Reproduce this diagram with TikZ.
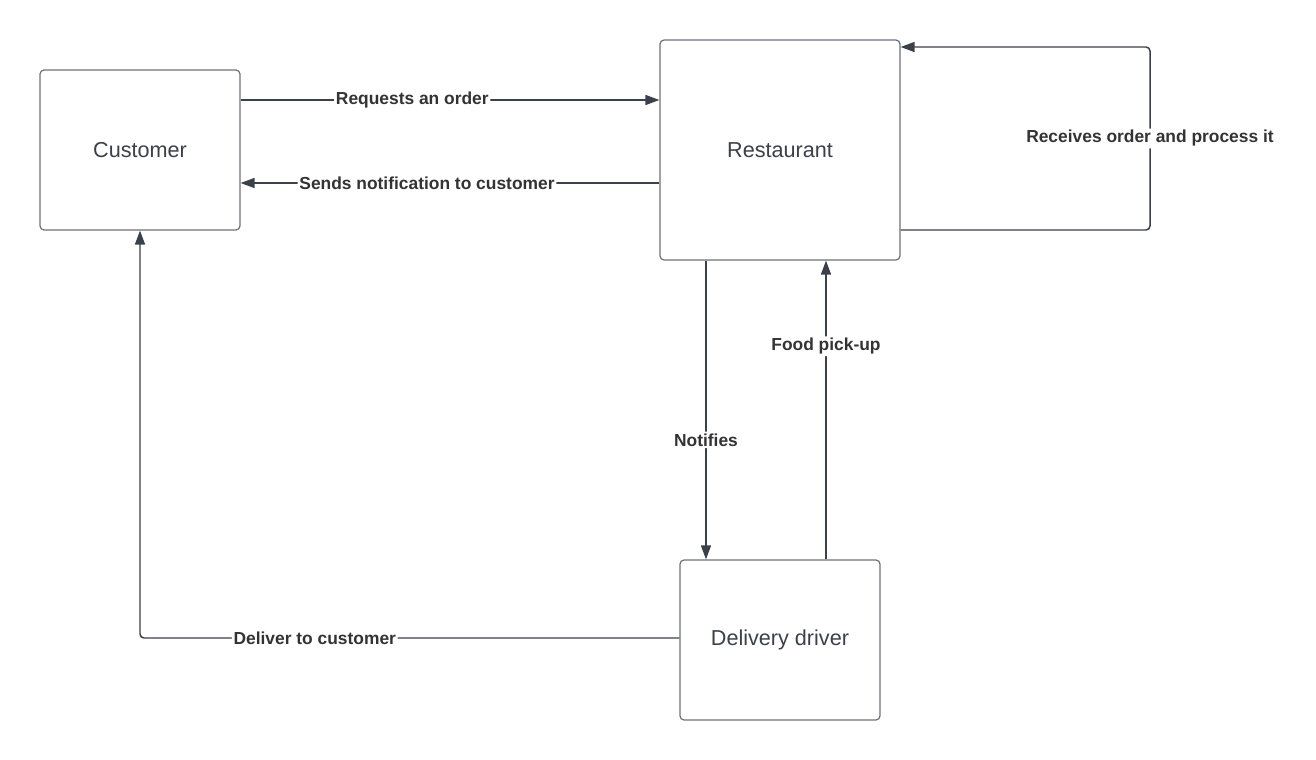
\documentclass[tikz,border=0pt]{standalone}
\usepackage{fontspec}
\setmainfont{Liberation Sans}
\usetikzlibrary{arrows.meta}

\definecolor{boxline}{HTML}{6E7178}
\definecolor{flowline}{HTML}{3A414A}
\definecolor{boxtext}{HTML}{3A414A}
\definecolor{lbltext}{HTML}{333333}

\tikzset{
  box/.style={draw=boxline, line width=0.7pt, rounded corners=2.3pt, fill=white,
    text=boxtext, font=\fontsize{12.3}{14}\selectfont, inner sep=0pt},
  flow/.style={draw=flowline, line width=0.85pt, rounded corners=2.3pt,
    -{Triangle[length=0.28cm, width=0.2cm]}},
  lbl/.style={fill=white, text=lbltext, inner sep=1pt,
    font=\fontsize{9.9}{12}\selectfont\bfseries}
}

\begin{document}
\begin{tikzpicture}[x=0.02cm, y=-0.02cm]
        \useasboundingbox (0,0) rectangle (1316,760);

        % Boxes
        \node [box, minimum width=4cm, minimum height=3.2cm] (customer) at (140,150) {Customer};
        \node [box, minimum width=4.8cm, minimum height=4.4cm] (restaurant) at (780,150) {Restaurant};
        \node [box, minimum width=4cm, minimum height=3.2cm] (driver) at (780,640) {Delivery driver};

        % Customer and restaurant
        \draw [flow] (customer.east |- 0,100) -- node [lbl, pos=0.41] {Requests an order} (restaurant.west |- 0,100);
        \draw [flow] (restaurant.west |- 0,183) -- node [lbl, pos=0.555] {Sends notification to customer} (customer.east |- 0,183);

        % Restaurant loop
        \draw [flow] (restaurant.east |- 0,230) -- (1150,230) -- node [lbl] {Receives order and process it} (1150,47) -- (restaurant.east |- 0,47);

        % Restaurant and driver
        \draw [flow] (restaurant.south -| 706,0) -- node [lbl, pos=0.6] {Notifies} (driver.north -| 706,0);
        \draw [flow] (driver.north -| 826,0) -- node [lbl, pos=0.713] {Food pick-up} (restaurant.south -| 826,0);

        % Driver and customer
        \draw [flow] (driver.west |- 0,638) -| node [lbl, pos=0.338] {Deliver to customer} (customer.south);

\end{tikzpicture}
\end{document}
